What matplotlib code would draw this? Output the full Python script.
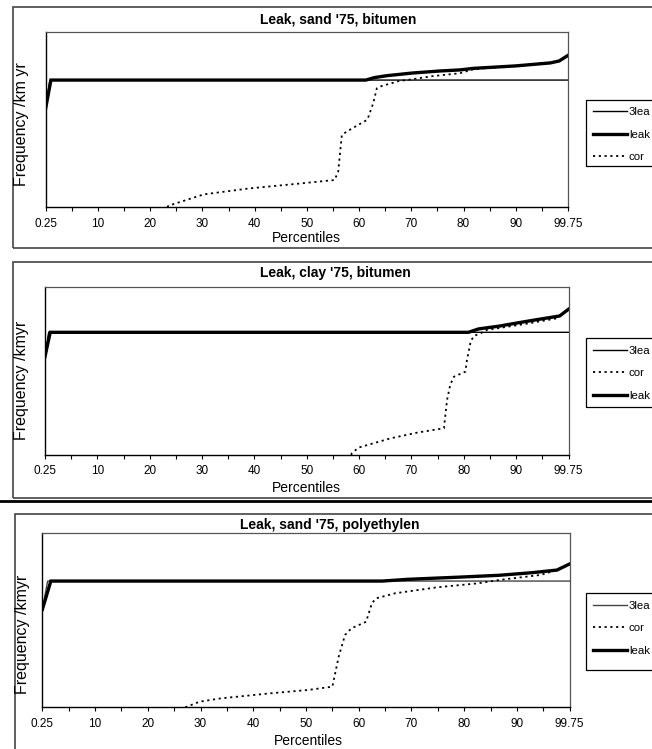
import matplotlib
matplotlib.use('Agg')
import matplotlib.pyplot as plt
from matplotlib.lines import Line2D
from matplotlib.patches import Rectangle

plt.rcParams['font.family'] = ['Liberation Sans', 'DejaVu Sans']

W, H = 652, 749

# x positions on the category axis: 0 -> "0.25", 100 -> "99.75"
tick_pos = [0, 10, 20, 30, 40, 50, 60, 70, 80, 90, 100]
tick_labels = ['0.25', '10', '20', '30', '40', '50', '60', '70', '80', '90', '99.75']

titles = ["Leak, sand '75, bitumen", "Leak, clay '75, bitumen", "Leak, sand '75, polyethylen"]
ylabels = ['Frequency /km yr', 'Frequency /kmyr', 'Frequency /kmyr']

# legend names as far as they show before the picture's right edge
names = {'3leak': '3lea', 'leak': 'leak', 'corr': 'cor'}

# panel 1: sand, bitumen
p1_3leak_x = [0, 0.8, 100]
p1_3leak_y = [0.567, 0.727, 0.727]
p1_leak_x = [0, 1.0, 61.3, 62.9, 65.3, 70.1, 75.5, 79.3, 81.9, 90.0, 96.6, 98.3, 100]
p1_leak_y = [0.567, 0.727, 0.727, 0.741, 0.752, 0.767, 0.779, 0.785, 0.794, 0.808, 0.825, 0.836, 0.868]
p1_corr_x = [23.3, 23.5, 30.3, 39.0, 47.0, 55.3, 56.0, 56.7, 57.6, 59.5, 61.5, 61.8, 62.7, 63.4,
             64.3, 66.2, 67.8, 69.1, 74.2, 79.3, 81.9, 90.8, 93.0, 96.6, 98.3, 100]
p1_corr_y = [0.0, 0.009, 0.074, 0.108, 0.131, 0.156, 0.203, 0.413, 0.432, 0.465, 0.499, 0.518, 0.594, 0.68,
             0.693, 0.709, 0.723, 0.727, 0.75, 0.766, 0.789, 0.81, 0.816, 0.825, 0.836, 0.868]

# panel 2: clay, bitumen
p2_3leak_x = [0, 0.7, 100]
p2_3leak_y = [0.585, 0.729, 0.729]
p2_leak_x = [0, 1.0, 80.9, 82.8, 86.8, 91.6, 94.7, 98.3, 100]
p2_leak_y = [0.585, 0.729, 0.729, 0.749, 0.766, 0.792, 0.808, 0.826, 0.866]
p2_corr_x = [58.5, 58.6, 59.9, 66.0, 71.1, 76.2, 76.8, 77.4, 78.1, 80.3, 80.6, 81.3, 81.9, 83.2,
             84.4, 91.6, 97.8, 98.3, 100]
p2_corr_y = [0.0, 0.01, 0.044, 0.099, 0.133, 0.159, 0.327, 0.416, 0.465, 0.495, 0.564, 0.673, 0.707, 0.723,
             0.743, 0.778, 0.812, 0.826, 0.866]

# panel 3: sand, polyethylen
p3_3leak_x = [0, 1.0, 100]
p3_3leak_y = [0.561, 0.723, 0.723]
p3_leak_x = [0, 1.6, 64.5, 69.3, 78.7, 86.6, 92.9, 97.6, 100]
p3_leak_y = [0.561, 0.723, 0.723, 0.733, 0.745, 0.756, 0.771, 0.786, 0.821]
p3_corr_x = [27.1, 29.8, 33.8, 43.2, 50.3, 55.0, 56.2, 57.4, 58.6, 61.4, 62.5, 63.3, 66.9, 74.8,
             82.6, 86.6, 94.5, 97.6, 100]
p3_corr_y = [0.0, 0.032, 0.051, 0.08, 0.099, 0.118, 0.29, 0.414, 0.452, 0.49, 0.596, 0.624, 0.653, 0.687,
             0.71, 0.729, 0.758, 0.786, 0.821]

panels = [
    (p1_3leak_x, p1_3leak_y, p1_leak_x, p1_leak_y, p1_corr_x, p1_corr_y),
    (p2_3leak_x, p2_3leak_y, p2_leak_x, p2_leak_y, p2_corr_x, p2_corr_y),
    (p3_3leak_x, p3_3leak_y, p3_leak_x, p3_leak_y, p3_corr_x, p3_corr_y),
]
legend_order = [['3leak', 'leak', 'corr'], ['3leak', 'corr', 'leak'], ['3leak', 'corr', 'leak']]

# layout in pixels
plot_px = [(45.7, 32.3, 568, 207.3), (45, 286.7, 568.5, 455), (42.4, 532.7, 569.6, 707.3)]
frame_px = [(12.7, 7.3, 248.3), (12.7, 261.7, 497.5), (14.5, 514, 760)]
title_px = [(338, 19.3), (335, 273.3), (330, 525)]
xlabel_px = [(306, 237.5), (306, 488), (308, 741)]
ylabel_px = [(22, 124), (22, 380), (23, 634)]
legend_px = [(585.7, 100, 165.7), (585.7, 338.3, 406.7), (585.7, 593.3, 670)]
thin_colors = ['black', 'black', '#444444']


def fx(x):
    return x / W


def fy(y):
    return 1 - y / H


fig = plt.figure(figsize=(W / 100, H / 100), dpi=100)

for i, (tx, ty, lx, ly, cx, cy) in enumerate(panels):
    l, t, r, b = plot_px[i]
    ax = fig.add_axes([fx(l), fy(b), (r - l) / W, (b - t) / H])

    lines = {}
    lines['3leak'], = ax.plot(tx, ty, color=thin_colors[i], lw=1.0)
    lines['corr'], = ax.plot(cx, cy, color='black', lw=1.3, linestyle=(0, (1.2, 2.0)))
    lines['leak'], = ax.plot(lx, ly, color='black', lw=2.4, solid_joinstyle='miter')

    ax.set_xlim(0, 100)
    ax.set_ylim(0, 1)
    ax.set_xticks(tick_pos)
    ax.set_xticklabels(tick_labels, fontsize=8.5)
    ax.set_xticks(range(5, 100, 10), minor=True)
    ax.tick_params(axis='x', which='both', direction='out', length=3, width=0.8, pad=4.5)
    ax.set_yticks([])
    for s in ['top', 'right']:
        ax.spines[s].set_color('#555555')
        ax.spines[s].set_linewidth(0.9)
    for s in ['left', 'bottom']:
        ax.spines[s].set_color('black')
        ax.spines[s].set_linewidth(1.0)

    # chart area frame (runs past the right edge)
    fl, ft, fb = frame_px[i]
    fig.add_artist(Rectangle((fx(fl), fy(fb)), 1.2, (fb - ft) / H, transform=fig.transFigure,
                             fill=False, edgecolor='#444444', lw=1.2))

    fig.text(fx(title_px[i][0]), fy(title_px[i][1]), titles[i], ha='center', va='center',
             fontsize=10, fontweight='bold')
    fig.text(fx(xlabel_px[i][0]), fy(xlabel_px[i][1]), 'Percentiles', ha='center', va='center',
             fontsize=10)
    fig.text(fx(ylabel_px[i][0]), fy(ylabel_px[i][1]), ylabels[i], ha='center', va='center',
             fontsize=11.5, rotation=90)

    # legend box, also running past the right edge
    gx, gt, gb = legend_px[i]
    fig.add_artist(Rectangle((fx(gx), fy(gb)), 0.2, (gb - gt) / H, transform=fig.transFigure,
                             fill=False, edgecolor='black', lw=0.9))
    order = legend_order[i]
    ax.legend([lines[k] for k in order], [names[k] for k in order], loc='upper left',
              bbox_to_anchor=(fx(gx), fy(gt)), bbox_transform=fig.transFigure,
              frameon=False, fontsize=8.2, handlelength=3.0, handletextpad=0.15,
              labelspacing=1.1, borderpad=0.65, borderaxespad=0)

# separator line between second and third chart
fig.add_artist(Line2D([0, 1], [fy(501), fy(501)], transform=fig.transFigure, color='black', lw=2))

fig.savefig('out.png', dpi=100)
